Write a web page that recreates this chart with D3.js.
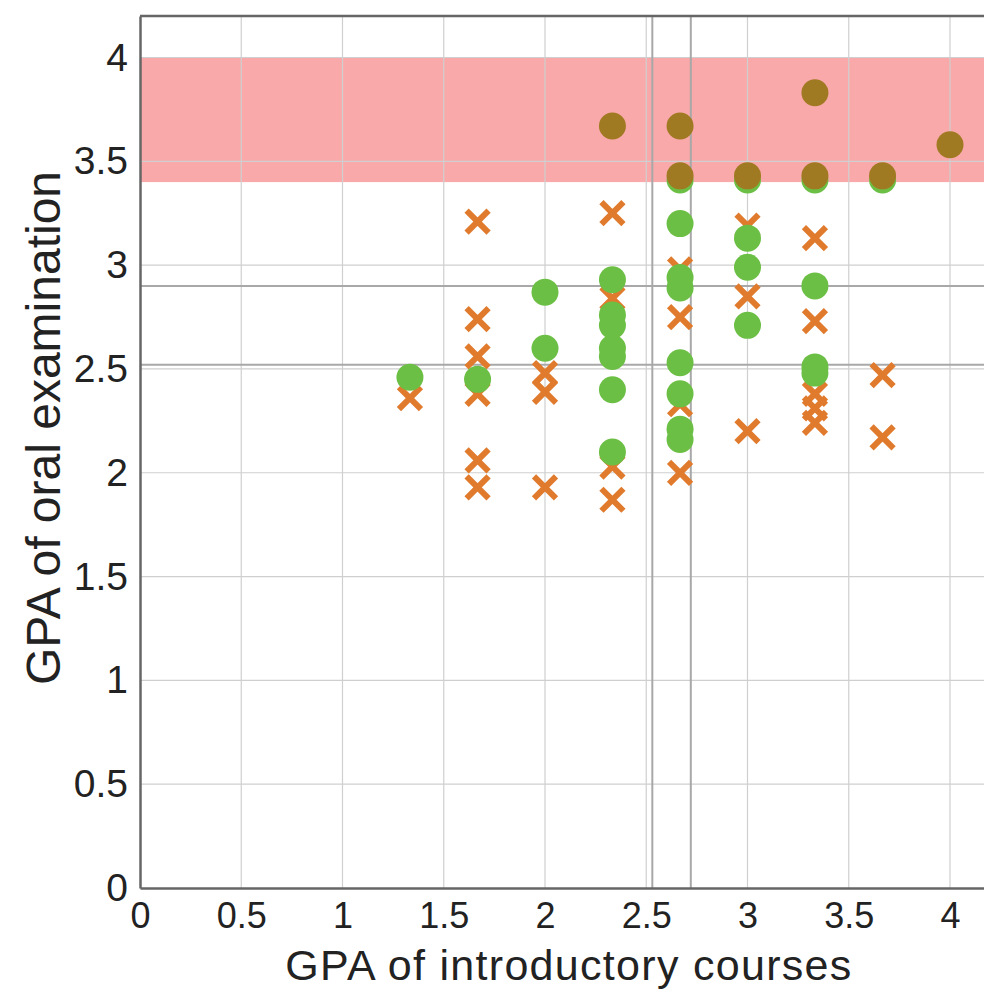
<!DOCTYPE html>
<html>
<head>
<meta charset="utf-8">
<script src="https://cdn.jsdelivr.net/npm/d3@7"></script>
<style>
  body { margin: 0; background: #fff; }
  text { font-family: "Liberation Sans", Arial, Helvetica, sans-serif; fill: #222; }
</style>
</head>
<body>
<div id="chart"></div>
<script>
// x = GPA of introductory courses, y = GPA of oral examination

// orange crosses
const crossX = [1.333, 1.667, 1.667, 1.667, 1.667, 1.667, 1.667,
  2, 2, 2, 2.333, 2.333, 2.333, 2.333,
  2.667, 2.667, 2.667, 2.667, 3, 3, 3,
  3.333, 3.333, 3.333, 3.333, 3.333, 3.667, 3.667];
const crossY = [2.36, 3.21, 2.74, 2.56, 2.38, 2.06, 1.93,
  2.48, 2.39, 1.93, 3.25, 2.84, 2.03, 1.87,
  2.98, 2.75, 2.33, 2.0, 3.19, 2.85, 2.2,
  3.13, 2.73, 2.38, 2.31, 2.24, 2.47, 2.17];

// green circles
const greenX = [1.333, 1.667, 2, 2,
  2.333, 2.333, 2.333, 2.333, 2.333, 2.333, 2.333,
  2.667, 2.667, 2.667, 2.667, 2.667, 2.667, 2.667, 2.667,
  3, 3, 3, 3, 3.333, 3.333, 3.333, 3.333, 3.667];
const greenY = [2.46, 2.45, 2.87, 2.6,
  2.93, 2.76, 2.71, 2.6, 2.56, 2.4, 2.1,
  3.41, 3.2, 2.94, 2.89, 2.53, 2.38, 2.21, 2.16,
  3.41, 3.13, 2.99, 2.71, 3.41, 2.9, 2.51, 2.48, 3.41];

// brown circles (inside the band)
const brownX = [2.333, 2.667, 3.333, 4, 2.667, 3, 3.333, 3.667];
const brownY = [3.67, 3.67, 3.83, 3.58, 3.43, 3.43, 3.43, 3.43];

const band = [3.4, 4.0];
const meanX = [2.53, 2.72];
const meanY = [2.9, 2.52];

const xTicks = [0, 0.5, 1, 1.5, 2, 2.5, 3, 3.5, 4];
const yTicks = [0, 0.5, 1, 1.5, 2, 2.5, 3, 3.5, 4];

const width = 984, height = 991;
const margin = {top: 16, left: 140};
const x = d3.scaleLinear().domain([0, 4.2]).range([margin.left, margin.left + 850.5]);
const y = d3.scaleLinear().domain([0, 4.2]).range([888, margin.top]);

const svg = d3.select("#chart").append("svg")
  .attr("width", width).attr("height", height);

// band
svg.append("rect")
  .attr("x", x(0)).attr("width", x(4.2) - x(0))
  .attr("y", y(band[1])).attr("height", y(band[0]) - y(band[1]))
  .attr("fill", "#f9a9a9");

// grid
svg.append("g").selectAll("line").data(xTicks.slice(1)).join("line")
  .attr("x1", d => x(d)).attr("x2", d => x(d))
  .attr("y1", y(0)).attr("y2", y(4.2))
  .attr("stroke", "#cfcfcf").attr("stroke-width", 1.2);
svg.append("g").selectAll("line").data(yTicks.slice(1)).join("line")
  .attr("x1", x(0)).attr("x2", x(4.2))
  .attr("y1", d => y(d)).attr("y2", d => y(d))
  .attr("stroke", "#cfcfcf").attr("stroke-width", 1.2);

// mean lines
svg.append("g").selectAll("line").data(meanX).join("line")
  .attr("x1", d => x(d)).attr("x2", d => x(d))
  .attr("y1", y(0)).attr("y2", y(4.2))
  .attr("stroke", "#a8a8a8").attr("stroke-width", 2);
svg.append("g").selectAll("line").data(meanY).join("line")
  .attr("x1", x(0)).attr("x2", x(4.2))
  .attr("y1", d => y(d)).attr("y2", d => y(d))
  .attr("stroke", "#a8a8a8").attr("stroke-width", 2);

// crosses
const crosses = d3.zip(crossX, crossY);
const cs = 11;
svg.append("g").selectAll("path").data(crosses).join("path")
  .attr("d", d => {
    const cx = x(d[0]), cy = y(d[1]);
    return `M${cx - cs},${cy - cs}L${cx + cs},${cy + cs}M${cx - cs},${cy + cs}L${cx + cs},${cy - cs}`;
  })
  .attr("stroke", "#e07a2c").attr("stroke-width", 6).attr("fill", "none");

// green circles
svg.append("g").selectAll("circle").data(d3.zip(greenX, greenY)).join("circle")
  .attr("cx", d => x(d[0])).attr("cy", d => y(d[1])).attr("r", 13.5)
  .attr("fill", "#6cbf45");

// brown circles
svg.append("g").selectAll("circle").data(d3.zip(brownX, brownY)).join("circle")
  .attr("cx", d => x(d[0])).attr("cy", d => y(d[1])).attr("r", 13.5)
  .attr("fill", "#a07a22");

// axes
const xAxis = svg.append("g")
  .attr("transform", `translate(0,${y(0)})`)
  .call(d3.axisBottom(x).tickValues(xTicks).tickSize(0).tickPadding(14).tickFormat(d3.format("")));
xAxis.select(".domain").attr("stroke", "#666").attr("stroke-width", 2.5);
xAxis.selectAll("text").attr("font-size", 36).attr("fill", "#222").style("font-family", "Liberation Sans, Arial");

const yAxis = svg.append("g")
  .attr("transform", `translate(${x(0)},0)`)
  .call(d3.axisLeft(y).tickValues(yTicks).tickSize(0).tickPadding(12).tickFormat(d3.format("")));
yAxis.select(".domain").attr("stroke", "#666").attr("stroke-width", 2.5);
yAxis.selectAll("text").attr("font-size", 39).attr("fill", "#222").style("font-family", "Liberation Sans, Arial");

// top frame
svg.append("line")
  .attr("x1", x(0)).attr("x2", x(4.2)).attr("y1", y(4.2)).attr("y2", y(4.2))
  .attr("stroke", "#666").attr("stroke-width", 2.5);

// titles
svg.append("text")
  .attr("x", 569).attr("y", 980)
  .attr("text-anchor", "middle").attr("font-size", 43)
  .attr("letter-spacing", 1.3)
  .text("GPA of introductory courses");
svg.append("text")
  .attr("transform", `translate(60,428) rotate(-90)`)
  .attr("text-anchor", "middle").attr("font-size", 48)
  .text("GPA of oral examination");
</script>
</body>
</html>
